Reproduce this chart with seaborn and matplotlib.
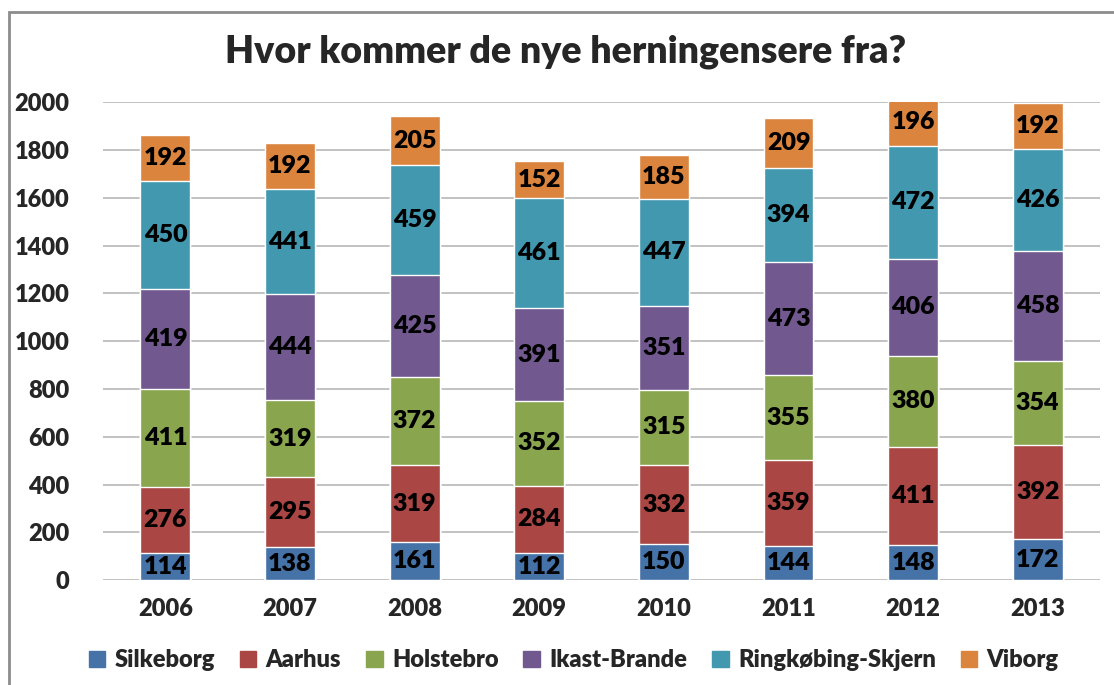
import numpy as np
import pandas as pd
import seaborn as sns
import matplotlib.pyplot as plt
from matplotlib.patches import Rectangle

# Data
years = ['2006', '2007', '2008', '2009', '2010', '2011', '2012', '2013']
series = ['Silkeborg', 'Aarhus', 'Holstebro', 'Ikast-Brande', 'Ringkøbing-Skjern', 'Viborg']
silkeborg = [114, 138, 161, 112, 150, 144, 148, 172]
aarhus = [276, 295, 319, 284, 332, 359, 411, 392]
holstebro = [411, 319, 372, 352, 315, 355, 380, 354]
ikast = [419, 444, 425, 391, 351, 473, 406, 458]
ringkobing = [450, 441, 459, 461, 447, 394, 472, 426]
viborg = [192, 192, 205, 152, 185, 209, 196, 192]
colors = ['#4572A7', '#AA4643', '#89A54E', '#71588F', '#4198AF', '#DB843D']

values = [silkeborg, aarhus, holstebro, ikast, ringkobing, viborg]
cum = np.cumsum(np.array(values), axis=0)

sns.set_style('white')
plt.rcParams['font.family'] = ['Lato', 'DejaVu Sans']
plt.rcParams['font.weight'] = 'bold'

fig = plt.figure(figsize=(11.14, 6.85), dpi=100)
ax = fig.add_axes([0.0925, 0.153, 0.895, 0.698])

# Draw the cumulative totals from the top series down so they stack
for k in range(len(series) - 1, -1, -1):
    df = pd.DataFrame({'year': years, 'total': cum[k]})
    sns.barplot(data=df, x='year', y='total', color=colors[k], saturation=1,
                width=0.4, ax=ax, label=series[k], zorder=3)

for k in range(len(series)):
    for i in range(len(years)):
        ax.text(i, cum[k][i] - values[k][i] / 2, str(values[k][i]),
                ha='center', va='center', fontsize=18, fontweight='heavy',
                color='black', zorder=4)

ax.set_ylim(0, 2000)
ax.set_xlim(-0.5, len(years) - 0.5)
ax.set_yticks(range(0, 2001, 200))
ax.yaxis.grid(True, color='#B8B8B8', linewidth=1.2, zorder=0)
ax.set_axisbelow(True)
for s in ax.spines.values():
    s.set_visible(False)
ax.tick_params(axis='both', length=0, labelsize=17)
ax.tick_params(axis='x', pad=13)
ax.tick_params(axis='y', pad=24)
ax.set_xlabel('')
ax.set_ylabel('')
for lbl in ax.get_xticklabels() + ax.get_yticklabels():
    lbl.set_fontweight('heavy')

if ax.get_legend():
    ax.get_legend().remove()
handles = [Rectangle((0, 0), 1, 1, color=c) for c in colors]
fig.legend(handles, series, loc='center', bbox_to_anchor=(0.515, 0.036),
           ncol=6, frameon=False, handlelength=0.7,
           handleheight=0.7, handletextpad=0.4, columnspacing=1.05,
           prop={'size': 17, 'weight': 'heavy'})

fig.text(0.508, 0.925, 'Hvor kommer de nye herningensere fra?', ha='center',
         va='center', fontsize=27, fontweight='heavy')

# Chart border
fig.patches.append(Rectangle((0.008, -0.05), 1.1, 1.033, transform=fig.transFigure,
                             fill=False, edgecolor='#8C8C8C', linewidth=2))

fig.savefig('out.png', dpi=100)
